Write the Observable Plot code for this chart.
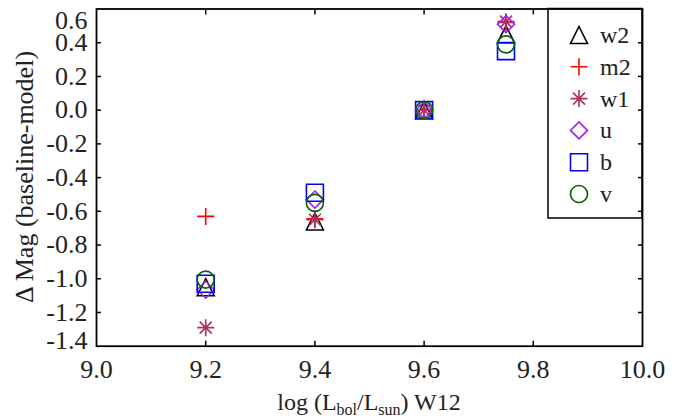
<!DOCTYPE html>
<html>
<head>
<meta charset="utf-8">
<script src="https://cdn.jsdelivr.net/npm/d3@7"></script>
<script src="https://cdn.jsdelivr.net/npm/@observablehq/plot@0.6"></script>
<style>
  html, body { margin: 0; padding: 0; background: #fff; }
  #chart { width: 679px; height: 418px; }
  #chart svg text { font-family: "Times New Roman", Times, "Liberation Serif", serif; }
</style>
</head>
<body>
<div id="chart"></div>
<script>
// ---- data ----
const logL = [9.2, 9.4, 9.6, 9.75];
const series = ["w2", "m2", "w1", "u", "b", "v"];
const w2 = [-1.05, -0.66, 0.0, 0.45];
const m2 = [-0.63, -0.645, 0.0, 0.52];
const w1 = [-1.29, -0.65, 0.0, 0.525];
const u  = [-1.065, -0.53, 0.0, 0.51];
const b  = [-1.03, -0.49, 0.0, 0.35];
const v  = [-1.005, -0.55, 0.0, 0.39];
const colors = ["#000000", "#ff0000", "#b03060", "#a020f0", "#0000ff", "#006400"];
const xTicks = [9.0, 9.2, 9.4, 9.6, 9.8, 10.0];
const yTicks = [0.6, 0.4, 0.2, 0.0, -0.2, -0.4, -0.6, -0.8, -1.0, -1.2, -1.4];

const values = {w2, m2, w1, u, b, v};
const rows = series.flatMap(s => logL.map((x, i) => ({series: s, x, y: values[s][i]})));

// ---- custom IDL-like symbols ----
function mk(drawFn) {
  return { draw(ctx, size) { const h = Math.sqrt(size / Math.PI); drawFn(ctx, h); } };
}
const symTriangle = mk((c, h) => { c.moveTo(0, -h); c.lineTo(h, h); c.lineTo(-h, h); c.closePath(); });
const symPlus = mk((c, h) => { c.moveTo(-h, 0); c.lineTo(h, 0); c.moveTo(0, -h); c.lineTo(0, h); });
const symStar = mk((c, h) => {
  const k = h * Math.SQRT1_2;
  c.moveTo(-h, 0); c.lineTo(h, 0); c.moveTo(0, -h); c.lineTo(0, h);
  c.moveTo(-k, -k); c.lineTo(k, k); c.moveTo(-k, k); c.lineTo(k, -k);
});
const symDiamond = mk((c, h) => { c.moveTo(0, -h); c.lineTo(h, 0); c.lineTo(0, h); c.lineTo(-h, 0); c.closePath(); });
const symSquare = mk((c, h) => { c.moveTo(-h, -h); c.lineTo(h, -h); c.lineTo(h, h); c.lineTo(-h, h); c.closePath(); });
const symCircle = mk((c, h) => { c.moveTo(h, 0); c.arc(0, 0, h, 0, 2 * Math.PI); });
const symbols = [symTriangle, symPlus, symStar, symDiamond, symSquare, symCircle];

const R = 8.5;
const midY = yTicks.slice(1, -1);
const innerX = xTicks.slice(1, -1);

const fmt = d => d.toFixed(1);
const FF = "Times New Roman, Times, Liberation Serif, serif";
const txt = (extra) => Object.assign({fontFamily: FF, fontSize: 26, fill: "#222"}, extra);

const axisOpts = (extra) => Object.assign({tickSize: -5, tickFormat: () => "", label: null, strokeWidth: 1.5}, extra);

const chart = Plot.plot({
  width: 679,
  height: 418,
  marginLeft: 96,
  marginRight: 37,
  marginTop: 8.5,
  marginBottom: 72.3,
  style: {fontFamily: FF, fontSize: "24px", background: "#fff", color: "#000"},
  x: {domain: [9.0, 10.0]},
  y: {domain: [-1.4, 0.6]},
  symbol: {domain: series, range: symbols},
  color: {domain: series, range: colors},
  marks: [
    Plot.dot(rows, {x: "x", y: "y", symbol: "series", stroke: "series", r: R, strokeWidth: 1.6, fill: "none"}),
    Plot.frame({stroke: "#000", strokeWidth: 1.8}),
    Plot.axisX(innerX, axisOpts({anchor: "bottom"})),
    Plot.axisX(innerX, axisOpts({anchor: "top"})),
    Plot.axisY(midY, axisOpts({anchor: "left"})),
    Plot.axisY(midY, axisOpts({anchor: "right"})),
    Plot.text(xTicks, txt({x: d => d, text: fmt, frameAnchor: "bottom", dy: 23, lineAnchor: "middle"})),
    Plot.text(midY, txt({y: d => d, text: fmt, frameAnchor: "left", dx: -9, textAnchor: "end", lineAnchor: "middle"})),
    Plot.text(yTicks.slice(0, 1), txt({y: d => d, text: fmt, frameAnchor: "left", dx: -9, dy: 12, textAnchor: "end", lineAnchor: "middle"})),
    Plot.text(yTicks.slice(-1), txt({y: d => d, text: fmt, frameAnchor: "left", dx: -9, dy: -6, textAnchor: "end", lineAnchor: "middle"}))
  ]
});

document.getElementById("chart").appendChild(chart);

// ---- titles & legend (added to the SVG) ----
const svg = d3.select(chart);

const xt = svg.append("text")
  .attr("x", 369).attr("y", 410)
  .attr("text-anchor", "middle")
  .attr("font-size", 24).attr("fill", "#222");
xt.append("tspan").text("log (L");
xt.append("tspan").attr("font-size", 16).attr("dy", 5).text("bol");
xt.append("tspan").attr("dy", -5).text("/L");
xt.append("tspan").attr("font-size", 16).attr("dy", 5).text("sun");
xt.append("tspan").attr("dy", -5).text(") W12");

svg.append("text")
  .attr("transform", "translate(24,177) rotate(-90)")
  .attr("text-anchor", "middle").attr("dominant-baseline", "central")
  .attr("font-size", 26).attr("fill", "#222")
  .text("\u0394 Mag (baseline-model)");

// legend, inserted below the axis ticks
const legendNode = document.createElementNS("http://www.w3.org/2000/svg", "g");
const dotGroups = chart.querySelectorAll('g[aria-label="dot"]');
const afterDot = dotGroups[dotGroups.length - 1];
chart.insertBefore(legendNode, afterDot.nextSibling);
const lg = d3.select(legendNode);
lg.append("rect").attr("x", 548).attr("y", 8.5).attr("width", 94).attr("height", 209.5)
  .attr("fill", "#fff").attr("stroke", "#000").attr("stroke-width", 1.5);
series.forEach((s, i) => {
  const cy = 35 + i * 31.8;
  lg.append("path")
    .attr("transform", `translate(579,${cy})`)
    .attr("d", d3.symbol(symbols[i], R * R * Math.PI)())
    .attr("fill", "none").attr("stroke", colors[i]).attr("stroke-width", 1.6);
  lg.append("text").attr("x", 600).attr("y", cy)
    .attr("text-anchor", "start")
    .attr("dominant-baseline", "central")
    .attr("font-size", 24).attr("fill", "#222")
    .text(s);
});
</script>
</body>
</html>
